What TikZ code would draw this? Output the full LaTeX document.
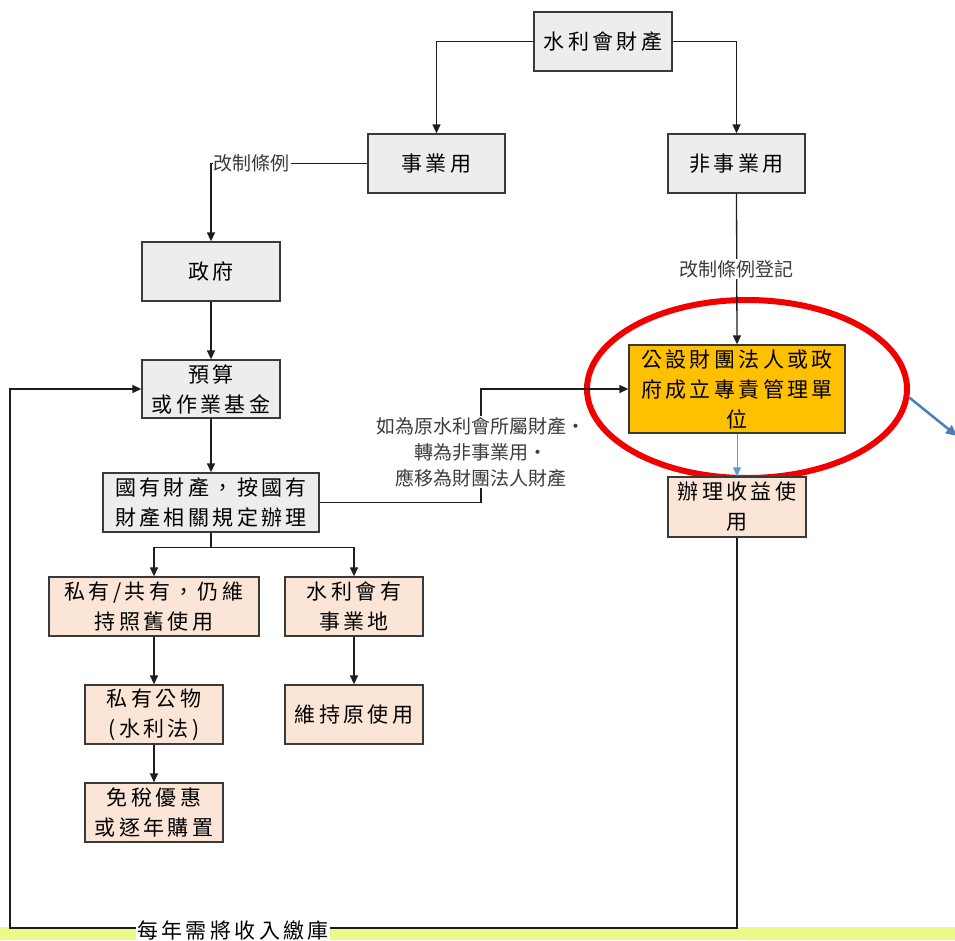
\documentclass[tikz,border=0pt]{standalone}
\usepackage{fontspec}
\newfontfamily\cjkbox[LetterSpace=16]{Noto Sans CJK TC}
\newfontfamily\cjklab{Noto Sans CJK TC}
\usetikzlibrary{arrows.meta,shapes.geometric,calc}
\newcommand\mybxfont{\cjkbox\fontsize{21}{30}\selectfont}
\newcommand\mylbfont{\cjklab\fontsize{19}{26}\selectfont}
\definecolor{boxline}{HTML}{3A3A3A}
\definecolor{linec}{HTML}{1E1E1E}
\definecolor{grayfill}{HTML}{EDEDED}
\definecolor{peach}{HTML}{FBE5D6}
\definecolor{orangefill}{HTML}{FFC000}
\definecolor{ringred}{HTML}{F20000}
\definecolor{bluearrow}{HTML}{4A7EBB}
\definecolor{lightblue}{HTML}{5B9BD5}
\definecolor{strip}{HTML}{EAFB8C}
\definecolor{labgray}{HTML}{3C3C3C}
\begin{document}
\begin{tikzpicture}[x=1pt,y=-1pt,
  bx/.style={draw=boxline,line width=1.3pt,rectangle,inner sep=0pt,align=center,font=\mybxfont,text=black},
  graybox/.style={bx,fill=grayfill},
  peachbox/.style={bx,fill=peach},
  orangebox/.style={bx,fill=orangefill},
  lab/.style={font=\mylbfont,text=labgray,fill=white,inner sep=1pt,align=center},
  conn/.style={draw=linec,line width=1.3pt},
  arr/.style={conn,-{Triangle[length=9pt,width=8pt]}},
  larr/.style={draw=lightblue,line width=1pt,-{Triangle[length=9pt,width=8pt]}},
  barr/.style={draw=bluearrow,line width=2.5pt,-{Triangle[length=11pt,width=10pt]}}
]
\useasboundingbox (0,0) rectangle (955,940);
\clip (0,0) rectangle (955,940);
\fill[strip] (0,927) rectangle (955,940);

% red ring
\node[ellipse,draw=ringred,line width=6pt,minimum width=320pt,minimum height=178pt,inner sep=0pt] (ring) at (747,389) {};
\coordinate (offr) at (957,436);
\draw[barr] (ring.-3) -- (offr);

% boxes
\node[graybox,minimum width=138pt,minimum height=59pt] (top) at (603,41.5) {水利會財產};
\node[graybox,minimum width=137pt,minimum height=59pt] (shiye) at (436.5,163.5) {事業用};
\node[graybox,minimum width=137pt,minimum height=59pt] (feishiye) at (736.5,163.5) {非事業用};
\node[graybox,minimum width=138pt,minimum height=59pt] (zhengfu) at (211,271.5) {政府};
\node[graybox,minimum width=138pt,minimum height=58pt] (yusuan) at (211,389) {預算\\或作業基金};
\node[graybox,minimum width=216pt,minimum height=59pt] (guoyou) at (211,502.5) {國有財產，按國有\\財產相關規定辦理};
\node[peachbox,minimum width=210pt,minimum height=59pt] (siyou) at (154,606.5) {私有/共有，仍維\\持照舊使用};
\node[peachbox,minimum width=138pt,minimum height=59pt] (shuili) at (354,606.5) {水利會有\\事業地};
\node[peachbox,minimum width=138pt,minimum height=59pt] (sygw) at (154,714.5) {私有公物\\(水利法)};
\node[peachbox,minimum width=138pt,minimum height=59pt] (weichi) at (354,714.5) {維持原使用};
\node[peachbox,minimum width=138pt,minimum height=59pt] (mianshui) at (154,812.5) {免稅優惠\\或逐年購置};
\node[orangebox,minimum width=216pt,minimum height=88pt] (gongshe) at (737,389) {公設財團法人或政\\府成立專責管理單\\位};
\node[peachbox,minimum width=138pt,minimum height=60pt] (banli) at (737,507) {辦理收益使\\用};

% connectors
\draw[arr] (top.west) -| (shiye.north);
\draw[arr] (top.east) -| (feishiye.north);
\draw[arr] (shiye.west) -| (zhengfu.north)
  node[pos=0.5,lab,anchor=west,xshift=1pt] (lab1) {改制條例};
\draw[arr] (zhengfu.south) -- (yusuan.north);
\draw[arr] (yusuan.south) -- (guoyou.north);
\coordinate (br) at ($(guoyou.south)+(0,15)$);
\draw[conn] (guoyou.south) -- (br);
\draw[arr] (br) -| (siyou.north);
\draw[arr] (br) -| (shuili.north);
\draw[arr] (siyou.south) -- (sygw.north);
\draw[arr] (shuili.south) -- (weichi.north);
\draw[arr] (sygw.south) -- (mianshui.north);
\coordinate (jx) at (481,389);
\draw[arr] (guoyou.east) -| (jx) -- (gongshe.west);
\node[lab] (lab3) at (481,452) {如為原水利會所屬財產・\\轉為非事業用・\\應移為財團法人財產};
\draw[arr] (feishiye.south) -- (gongshe.north)
  node[pos=0.5,lab] (lab2) {改制條例登記};
\draw[larr] (gongshe.south) -- (banli.north);
\coordinate (lowl) at (10,928);
\draw[arr] (banli.south) |- (lowl) |- (yusuan.west);
\node[font=\mybxfont,fill=white,inner sep=1pt] (lab4) at (233,930) {每年需將收入繳庫};
\end{tikzpicture}
\end{document}
